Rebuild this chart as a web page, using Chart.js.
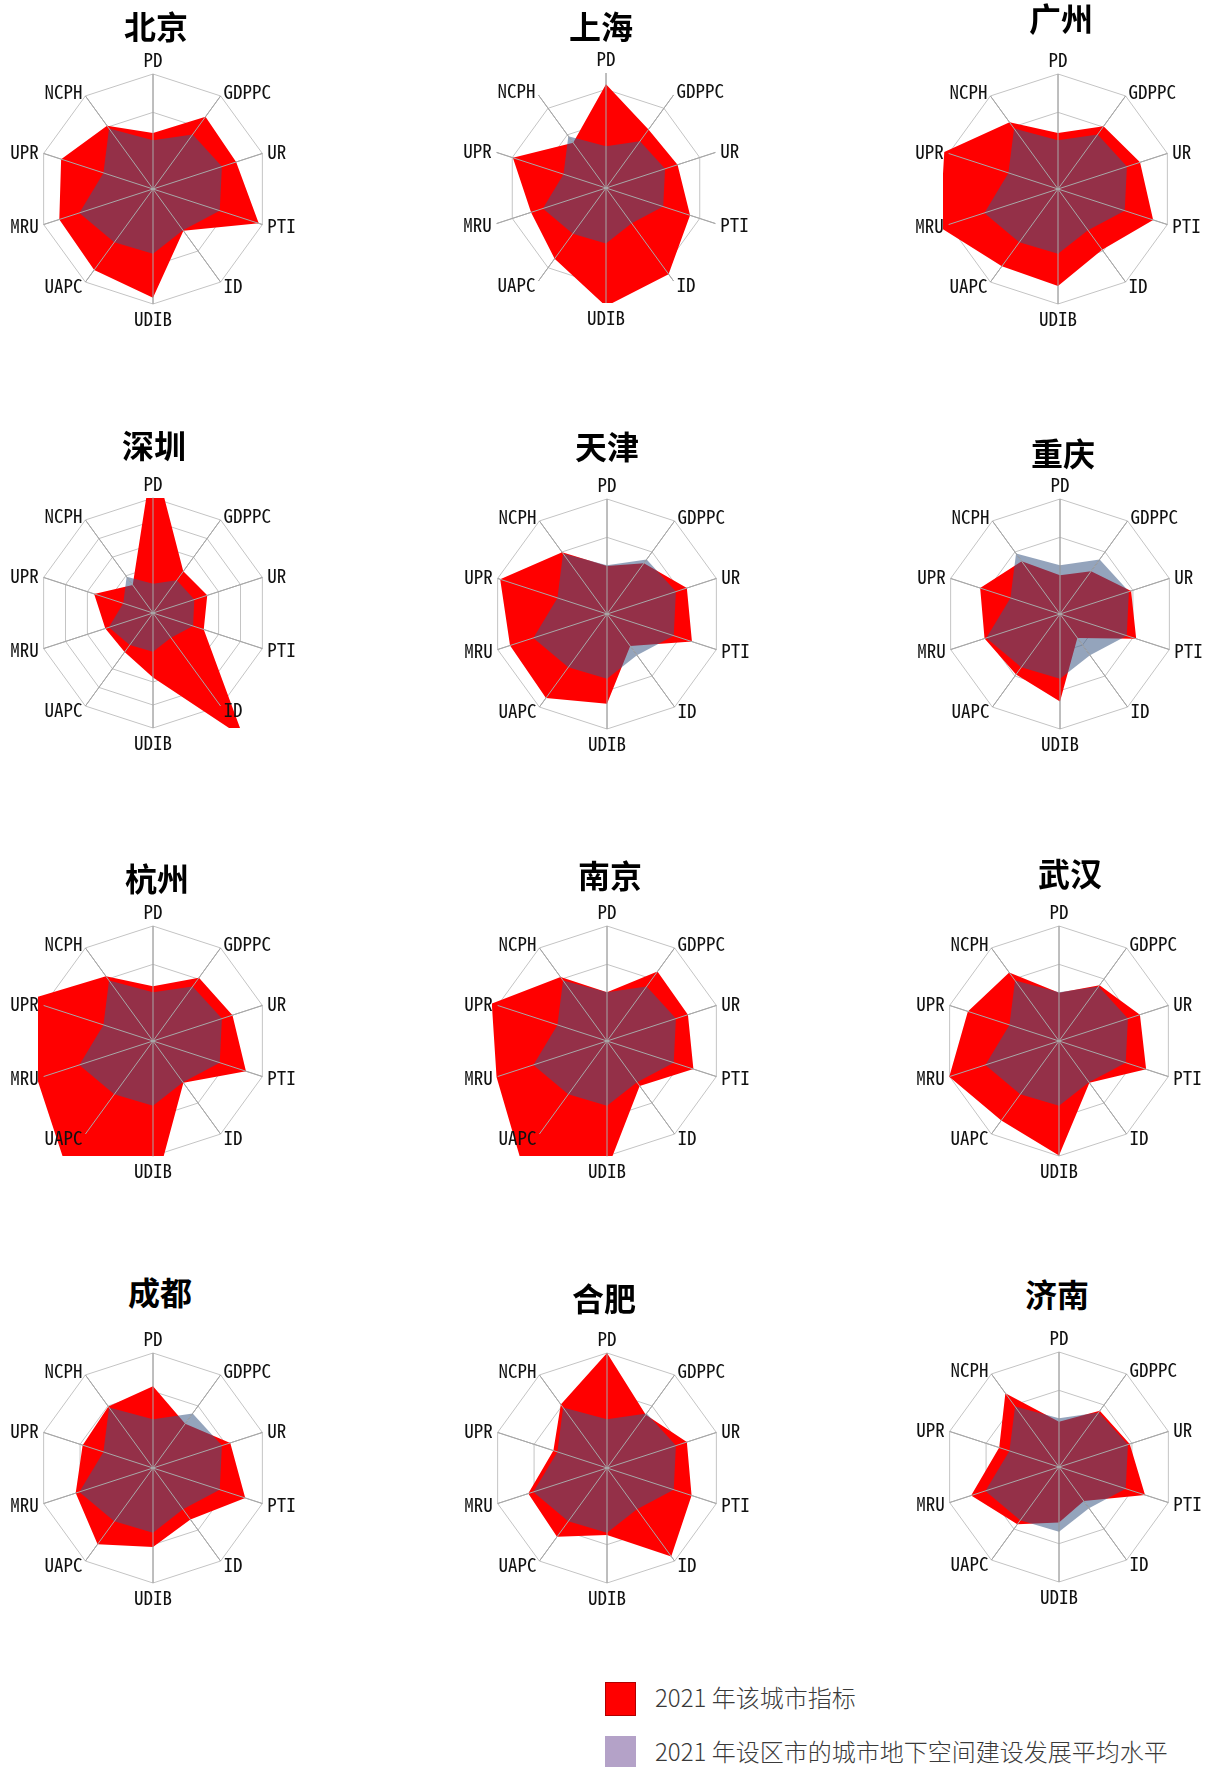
<!DOCTYPE html>
<html>
<head>
<meta charset="utf-8">
<script src="https://cdn.jsdelivr.net/npm/chart.js@4.4.0/dist/chart.umd.min.js"></script>
<style>
  html, body { margin:0; padding:0; background:#fff; }
  body { position:relative; width:1207px; height:1767px; overflow:hidden; }
  canvas { position:absolute; }
  .title { position:absolute; font-family:"Noto Sans CJK SC", sans-serif; font-weight:700;
           font-size:32px; line-height:1; color:#000; transform:translate(-50%,-50%); white-space:nowrap; }
  .lg-box { position:absolute; width:31px; height:34px; box-sizing:border-box; }
  .lg-text { position:absolute; font-family:"Noto Sans CJK SC", sans-serif; font-weight:300;
             font-size:24px; line-height:1; color:#3a3a3a; transform:translateY(-50%); white-space:nowrap; }
</style>
</head>
<body>
<script>
// ---------- data ----------
const axisLabels = ['PD','GDPPC','UR','PTI','ID','UDIB','UAPC','MRU','UPR','NCPH'];
const averageLevel = [1.27, 1.76, 1.89, 1.83, 1.33, 1.69, 1.72, 2.02, 1.36, 1.95];
const cityNames = ['北京','上海','广州','深圳','天津','重庆','杭州','南京','武汉','成都','合肥','济南'];
const beijing   = [1.46, 2.33, 2.28, 2.90, 1.35, 2.84, 2.61, 2.57, 2.52, 2.04];
const shanghai  = [3.16, 2.20, 2.29, 2.69, 3.24, 3.60, 2.66, 2.40, 2.98, 1.70];
const guangzhou = [1.46, 2.02, 2.25, 2.61, 1.96, 2.53, 2.49, 3.24, 3.12, 2.15];
const shenzhen  = [6.90, 2.24, 2.48, 2.32, 6.70, 2.80, 2.10, 2.18, 2.69, 1.50];
const tianjin   = [1.25, 1.64, 2.19, 2.33, 1.03, 2.34, 2.71, 2.66, 2.93, 1.99];
const chongqing = [1.01, 1.38, 1.95, 2.09, 0.77, 2.28, 1.95, 2.07, 2.19, 1.70];
const hangzhou  = [1.43, 2.04, 2.18, 2.55, 1.35, 4.04, 3.92, 3.18, 3.45, 2.09];
const nanjing   = [1.27, 2.24, 2.22, 2.37, 1.45, 3.37, 3.83, 3.03, 3.16, 2.06];
const wuhan     = [1.26, 1.80, 2.22, 2.39, 1.35, 2.99, 2.56, 3.01, 2.50, 2.21];
const chengdu   = [2.13, 1.43, 2.12, 2.53, 1.66, 2.06, 2.46, 2.12, 1.93, 1.98];
const hefei     = [3.00, 1.72, 2.19, 2.32, 2.85, 1.75, 2.22, 2.16, 1.47, 2.05];
const jinan     = [1.18, 1.81, 1.94, 2.36, 1.10, 1.45, 1.85, 2.41, 1.64, 2.38];
const cityValues = [beijing, shanghai, guangzhou, shenzhen, tianjin, chongqing,
                    hangzhou, nanjing, wuhan, chengdu, hefei, jinan];
const axisMax = [3, 3.5, 3, 5, 3, 3, 3, 3, 3, 3, 3, 3];
const legendLabels = ['2021 年该城市指标', '2021 年设区市的城市地下空间建设发展平均水平'];

// ---------- layout ----------
const centers = [[153,189],[606,188],[1058,189],
                 [153,613],[607,614],[1060,614],
                 [153,1041],[607,1041],[1059,1041],
                 [153,1468],[607,1468],[1059,1467]];
const titlePos = [[156,25],[601,25],[1061,17],
                  [154,444],[607,445],[1063,452],
                  [157,877],[610,874],[1070,872],
                  [160,1291],[604,1297],[1057,1293]];
const CW = 290, CH = 300, PADX = 30, PADY = 35; // chart area 230x230 -> radius 115

const overlay = {
  id: 'overlay',
  afterDatasetsDraw(chart) {
    const s = chart.scales.r;
    const ctx = chart.ctx;
    const n = chart.data.labels.length;
    ctx.save();
    ctx.strokeStyle = '#a8a8a8';
    ctx.lineWidth = 1;
    for (let i = 0; i < n; i++) {
      const p = s.getPointPosition(i, s.drawingArea);
      ctx.beginPath();
      ctx.moveTo(s.xCenter, s.yCenter);
      ctx.lineTo(p.x, p.y);
      ctx.stroke();
    }
    ctx.fillStyle = '#111';
    ctx.font = '19px "Noto Sans Mono CJK SC", "DejaVu Sans Mono", monospace';
    for (let i = 0; i < n; i++) {
      const p = s.getPointPosition(i, s.drawingArea + 5);
      const ang = Math.round(360 * i / n);
      let align = 'center', base = 'middle';
      if (ang === 0) base = 'bottom';
      else if (ang === 180) base = 'top';
      else if (ang < 180) align = 'left';
      else align = 'right';
      ctx.textAlign = align;
      ctx.textBaseline = base;
      ctx.fillText(chart.data.labels[i], p.x, p.y);
    }
    ctx.restore();
  }
};

cityNames.forEach((name, k) => {
  const [cx, cy] = centers[k];
  const cv = document.createElement('canvas');
  cv.width = CW; cv.height = CH;
  cv.style.left = (cx - CW / 2) + 'px';
  cv.style.top = (cy - CH / 2) + 'px';
  cv.style.width = CW + 'px'; cv.style.height = CH + 'px';
  document.body.appendChild(cv);

  const t = document.createElement('div');
  t.className = 'title';
  t.textContent = name;
  t.style.left = titlePos[k][0] + 'px';
  t.style.top = titlePos[k][1] + 'px';
  document.body.appendChild(t);

  new Chart(cv, {
    type: 'radar',
    data: {
      labels: axisLabels,
      datasets: [
        { label: legendLabels[0], data: cityValues[k], order: 1,
          backgroundColor: '#ff0000', borderWidth: 0, pointRadius: 0, fill: 'start', clip: 1 },
        { label: legendLabels[1], data: averageLevel, order: 0,
          backgroundColor: 'rgba(59,88,132,0.545)', borderWidth: 0, pointRadius: 0, fill: 'start', clip: 1 }
      ]
    },
    options: {
      responsive: false,
      animation: false,
      devicePixelRatio: 1,
      layout: { padding: { left: PADX, right: PADX, top: PADY, bottom: PADY } },
      elements: { line: { tension: 0 } },
      plugins: { legend: { display: false }, tooltip: { enabled: false } },
      scales: {
        r: {
          min: 0, max: axisMax[k],
          ticks: { display: false, stepSize: 1, includeBounds: false },
          grid: { color: '#c4c4c4', lineWidth: 1 },
          angleLines: { color: '#a8a8a8', lineWidth: 1 },
          pointLabels: { display: false }
        }
      }
    },
    plugins: [overlay]
  });
});

// legend
const lgColors = [['#ff0000','1px solid #b00000'], ['#b4a2c8','none']];
const lgY = [1682, 1736];
legendLabels.forEach((txt, i) => {
  const b = document.createElement('div');
  b.className = 'lg-box';
  b.style.left = '605px';
  b.style.top = lgY[i] + 'px';
  b.style.background = lgColors[i][0];
  b.style.border = lgColors[i][1];
  document.body.appendChild(b);
  const d = document.createElement('div');
  d.className = 'lg-text';
  d.textContent = txt;
  d.style.left = '655px';
  d.style.top = (lgY[i] + 15) + 'px';
  document.body.appendChild(d);
});
</script>
</body>
</html>
